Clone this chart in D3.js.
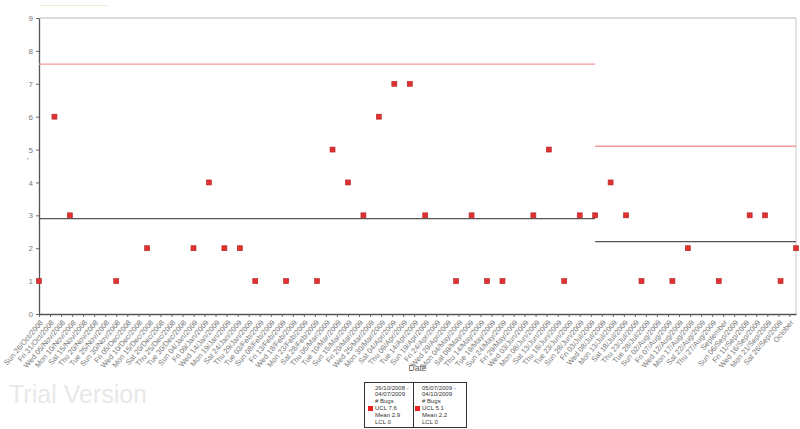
<!DOCTYPE html>
<html>
<head>
<meta charset="utf-8">
<script src="https://cdn.jsdelivr.net/npm/d3@7"></script>
<style>
  body { margin: 0; background: #fff; }
  svg { display: block; font-family: "Liberation Sans", Arial, sans-serif; }
</style>
</head>
<body>
<script>
// weekly bug counts (weeks with zero bugs are not plotted)
var weeks = ["2008-10-26", "2008-11-02", "2008-11-09", "2008-11-30", "2008-12-14",
    "2009-01-04", "2009-01-11", "2009-01-18", "2009-01-25", "2009-02-01",
    "2009-02-15", "2009-03-01", "2009-03-08", "2009-03-15", "2009-03-22",
    "2009-03-29", "2009-04-05", "2009-04-12", "2009-04-19", "2009-05-03",
    "2009-05-10", "2009-05-17", "2009-05-24", "2009-06-07", "2009-06-14",
    "2009-06-21", "2009-06-28", "2009-07-05", "2009-07-12", "2009-07-19",
    "2009-07-26", "2009-08-09", "2009-08-16", "2009-08-30", "2009-09-13",
    "2009-09-20", "2009-09-27", "2009-10-04"];
var bugs = [1, 6, 3, 1, 2,
    2, 4, 2, 2, 1,
    1, 1, 5, 4, 3,
    6, 7, 7, 3, 1,
    3, 1, 1, 3, 5,
    1, 3, 3, 4, 3,
    1, 1, 2, 1, 3,
    3, 1, 2];

// control limit segments
var segStart = ["2008-10-26", "2009-07-05"];
var segEnd = ["2009-07-05", "2009-10-04"];
var segLabel1 = ["26/10/2008 -", "05/07/2009 -"];
var segLabel2 = ["04/07/2009", "04/10/2009"];
var ucl = [7.6, 5.1];
var mean = [2.9, 2.2];
var lcl = [0, 0];

var yTicks = [0, 1, 2, 3, 4, 5, 6, 7, 8, 9];

var width = 800, height = 429;
var margin = { top: 18, left: 39, right: 4, bottom: 115 };
var parseDate = d3.timeParse("%Y-%m-%d");

var svg = d3.select("body").append("svg")
    .attr("width", width)
    .attr("height", height);

var x = d3.scaleTime()
    .domain([parseDate("2008-10-26"), parseDate("2009-10-04")])
    .range([margin.left, width - margin.right]);

var y = d3.scaleLinear()
    .domain([0, 9])
    .range([height - margin.bottom, margin.top]);

// watermark
svg.append("text")
    .attr("x", 9)
    .attr("y", 403)
    .style("font-size", "25px")
    .style("fill", "#e8e8e8")
    .text("Trial Version");

// faint title placeholder
svg.append("line")
    .attr("x1", 40).attr("x2", 107)
    .attr("y1", 5.5).attr("y2", 5.5)
    .attr("stroke", "#efe9d2");

// frame (top and right)
svg.append("line")
    .attr("x1", x.range()[0]).attr("x2", x.range()[1])
    .attr("y1", y(9)).attr("y2", y(9))
    .attr("stroke", "#b8b8b8");
svg.append("line")
    .attr("x1", x.range()[1]).attr("x2", x.range()[1])
    .attr("y1", y(9)).attr("y2", y(0))
    .attr("stroke", "#c8c8c8");

// x ticks every five days, month starts get the month name
var tickDays = d3.timeDay.range(parseDate("2008-10-26"), parseDate("2009-10-02"), 5);
var fmtDay = d3.timeFormat("%a %d/%b/%Y");
var fmtMonth = d3.timeFormat("%B");

var xAxis = svg.append("g")
    .attr("transform", "translate(0," + y(0) + ")")
    .call(d3.axisBottom(x)
        .tickValues(tickDays)
        .tickSize(3)
        .tickSizeOuter(0)
        .tickFormat(function (d) {
            return d.getDate() == 1 ? fmtMonth(d) : fmtDay(d);
        }));
xAxis.select(".domain").attr("stroke", "#555").attr("stroke-width", 1.3);
xAxis.selectAll(".tick line").attr("stroke", "#666");
xAxis.selectAll(".tick text")
    .style("font-size", "7.5px")
    .style("font-family", "Liberation Sans, Arial, sans-serif")
    .attr("fill", "#7a7a7a")
    .attr("text-anchor", "end")
    .attr("x", 0)
    .attr("y", 0)
    .attr("dy", "0.35em")
    .attr("transform", "translate(2,7) rotate(-50)");

var yAxis = svg.append("g")
    .attr("transform", "translate(" + margin.left + ",0)")
    .call(d3.axisLeft(y)
        .tickValues(yTicks)
        .tickSize(3)
        .tickSizeOuter(0));
yAxis.select(".domain").attr("stroke", "#555").attr("stroke-width", 1.3);
yAxis.selectAll(".tick line").attr("stroke", "#666");
yAxis.selectAll(".tick text")
    .style("font-size", "8px")
    .style("font-family", "Liberation Sans, Arial, sans-serif")
    .attr("fill", "#7a7a7a");

// axis titles
svg.append("text")
    .attr("x", (x.range()[0] + x.range()[1]) / 2)
    .attr("y", 371)
    .attr("text-anchor", "middle")
    .style("font-size", "8.5px")
    .style("fill", "#555")
    .text("Date");
svg.append("text")
    .attr("x", 27)
    .attr("y", 163)
    .style("font-size", "7px")
    .style("fill", "#333")
    .text("'");

// control lines per segment
var segs = segStart.map(function (s, i) {
    return { s: parseDate(s), e: parseDate(segEnd[i]), ucl: ucl[i], mean: mean[i] };
});

svg.selectAll(".ucl")
    .data(segs)
    .enter().append("line")
    .attr("class", "ucl")
    .attr("x1", d => x(d.s)).attr("x2", d => x(d.e))
    .attr("y1", d => y(d.ucl)).attr("y2", d => y(d.ucl))
    .attr("stroke", "#f29a9a")
    .attr("stroke-width", 1.3);

svg.selectAll(".mean")
    .data(segs)
    .enter().append("line")
    .attr("class", "mean")
    .attr("x1", d => x(d.s)).attr("x2", d => x(d.e))
    .attr("y1", d => y(d.mean)).attr("y2", d => y(d.mean))
    .attr("stroke", "#555")
    .attr("stroke-width", 1.1);

// points
var data = weeks.map(function (w, i) {
    return { date: parseDate(w), value: bugs[i] };
});

svg.selectAll(".pt")
    .data(data)
    .enter().append("rect")
    .attr("class", "pt")
    .attr("x", d => x(d.date) - 2.5)
    .attr("y", d => y(d.value) - 2.5)
    .attr("width", 5)
    .attr("height", 5)
    .attr("fill", "#e03030")
    .attr("stroke", "#b02525")
    .attr("stroke-width", 0.6);

// legend
var lg = svg.append("g").attr("transform", "translate(364,382)");
lg.append("rect")
    .attr("x", 0.5).attr("y", 0.5)
    .attr("width", 102).attr("height", 45)
    .attr("fill", "#fff")
    .attr("stroke", "#333");
lg.append("line")
    .attr("x1", 49.5).attr("x2", 49.5)
    .attr("y1", 0.5).attr("y2", 45.5)
    .attr("stroke", "#333");

segs.forEach(function (d, i) {
    var col = lg.append("g").attr("transform", "translate(" + (i * 47) + ",0)");
    col.append("rect")
        .attr("x", 4).attr("y", 24)
        .attr("width", 5).attr("height", 5)
        .attr("fill", "#e82020");
    var lines = [segLabel1[i], segLabel2[i], "# Bugs", "UCL " + ucl[i], "Mean " + mean[i], "LCL " + lcl[i]];
    col.selectAll("text")
        .data(lines)
        .enter().append("text")
        .attr("x", 11)
        .attr("y", (t, j) => 7.5 + 6.9 * j)
        .style("font-size", "6px")
        .style("fill", "#333")
        .text(t => t);
});
</script>
</body>
</html>
